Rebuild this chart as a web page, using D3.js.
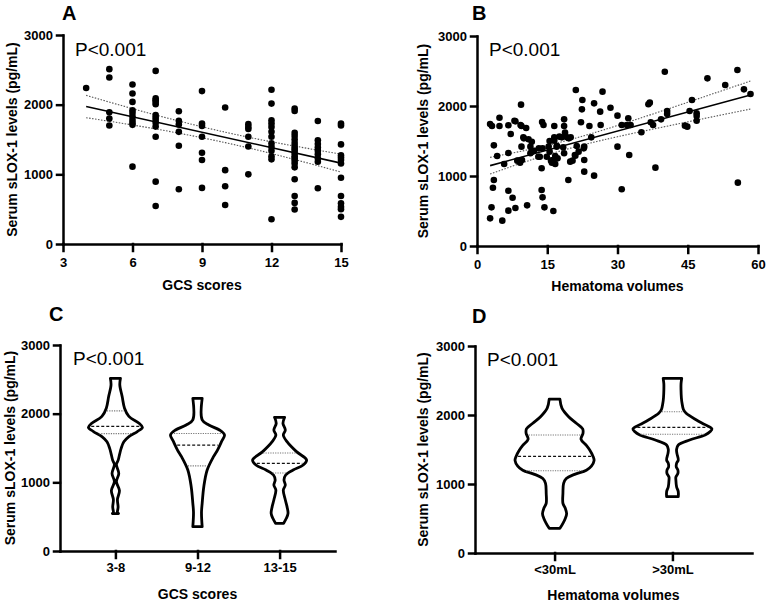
<!DOCTYPE html>
<html>
<head>
<meta charset="utf-8">
<script src="https://cdn.jsdelivr.net/npm/d3@7"></script>
<style>
  body { margin: 0; background: #fff; }
  svg { display: block; font-family: "Liberation Sans", Arial, Helvetica, sans-serif; }
  .axis path, .axis line { stroke: #000; stroke-width: 2.5px; stroke-linecap: square; }
  .axis text { font-size: 13px; font-weight: bold; fill: #000; font-family: "Liberation Sans", Arial, sans-serif; }
</style>
</head>
<body>
<svg id="chart" width="767" height="605"></svg>
<script>

// ---- data ----
const yTicks = [0, 1000, 2000, 3000];

// A: GCS score vs serum sLOX-1
const gcsTicks = [3, 6, 9, 12, 15];
const scatterA = [
  [4, 2240],
  [5, 2510], [5, 2390], [5, 1890], [5, 1800], [5, 1700],
  [6, 2290], [6, 2160], [6, 2040], [6, 1920], [6, 1880], [6, 1830], [6, 1780], [6, 1740], [6, 1710], [6, 1110],
  [7, 2485], [7, 2090], [7, 2065], [7, 2040], [7, 2005], [7, 1850], [7, 1815], [7, 1780], [7, 1740], [7, 1685], [7, 1540], [7, 895], [7, 545],
  [8, 1905], [8, 1770], [8, 1715], [8, 1610], [8, 1410], [8, 785],
  [9, 2195], [9, 1730], [9, 1695], [9, 1540], [9, 1310], [9, 1205], [9, 805],
  [10, 1960], [10, 1060], [10, 830], [10, 560],
  [11, 1720], [11, 1680], [11, 1650], [11, 1540], [11, 1400], [11, 1000],
  [12, 2215], [12, 2015], [12, 1775], [12, 1730], [12, 1680], [12, 1610], [12, 1540], [12, 1445], [12, 1395], [12, 1340], [12, 1260], [12, 1215], [12, 355],
  [13, 1945], [13, 1910], [13, 1595], [13, 1550], [13, 1500], [13, 1450], [13, 1405], [13, 1370], [13, 1340], [13, 1300], [13, 1260], [13, 1230], [13, 1195], [13, 1155], [13, 1100], [13, 930], [13, 690], [13, 590], [13, 495],
  [14, 1765], [14, 1490], [14, 1435], [14, 1385], [14, 1340], [14, 1290], [14, 1230], [14, 1180], [14, 800],
  [15, 1730], [15, 1700], [15, 1430], [15, 1275], [15, 1240], [15, 1205], [15, 1155], [15, 950], [15, 690], [15, 585], [15, 535], [15, 500], [15, 390]
];
const fitA = [[4, 1973], [15, 1161]];
const ciUpperA = [[4, 2133], [7, 1852], [10, 1605], [12.5, 1436], [15, 1289]];
const ciLowerA = [[4, 1813], [7, 1652], [10, 1455], [12.5, 1256], [15, 1033]];

// B: hematoma volume vs serum sLOX-1
const volumeTicks = [0, 15, 30, 45, 60];
const scatterB = [
  [2.8, 395], [3.1, 552], [2.8, 1743], [3.2, 1714], [3.6, 1438], [3.6, 943], [3.4, 833], [4.3, 1286],
  [4.8, 1714], [4.8, 1833], [5.4, 362], [5.8, 1171], [6.7, 1724], [6.7, 1329], [6.7, 790], [6.7, 505],
  [7.2, 1600], [7.6, 690], [8.2, 1781], [8.2, 543], [8.6, 1219], [9.2, 1190], [9.6, 1229], [9.4, 2019],
  [9.5, 1714], [9.5, 1419], [9.9, 1552], [10.5, 1686], [10.7, 581], [11.0, 1524], [11.4, 1419], [11.7, 1490],
  [11.7, 1348], [11.4, 1324], [13.1, 1276], [13.8, 1110], [13.8, 800], [14.0, 695], [13.9, 1771], [14.2, 1729],
  [14.0, 1395], [14.4, 552], [14.9, 1276], [15.3, 1419], [15.5, 1348], [15.8, 1219], [16.0, 1190], [16.3, 500],
  [16.5, 1714], [16.5, 1505], [16.5, 1552], [16.7, 1286], [16.7, 1171], [17.0, 1419], [17.6, 1562], [18.1, 1552],
  [18.6, 1809], [18.6, 1714], [18.6, 1324], [18.8, 1619], [19.2, 1552], [19.5, 943], [19.9, 1205], [20.0, 1552],
  [20.4, 1219], [20.9, 1300], [21.1, 2229], [21.3, 1429], [21.7, 1348], [22.2, 1767], [22.4, 1952], [22.5, 2086],
  [22.9, 1419], [22.9, 1229], [22.9, 1062], [24.0, 1714], [24.4, 1552], [25.0, 2038], [25.0, 1005], [26.3, 1919],
  [26.4, 1729], [26.8, 2205], [28.5, 1976], [30.0, 1862], [30.0, 1419], [30.9, 1729], [30.9, 810], [32.0, 1729],
  [32.3, 1824], [32.5, 1300], [32.8, 1729], [35.1, 1624], [36.6, 2024], [36.9, 2048], [37.1, 1767], [37.6, 1729],
  [38.1, 1119], [39.3, 1809], [40.1, 2490], [40.6, 1886], [40.6, 1929], [44.4, 1719], [44.9, 1705], [45.4, 1929],
  [45.9, 2086], [46.9, 1857], [46.9, 1790], [46.9, 1895], [49.2, 2395], [53.0, 2300], [55.7, 905], [55.6, 2514],
  [57.0, 2238], [58.4, 2171],
  [8.0, 1790], [9.3, 1729], [10.0, 1538], [13.4, 1276], [13.2, 1395], [15.5, 1500], [16.2, 1229], [17.1, 1429],
  [17.2, 1252], [18.4, 1410], [19.6, 1538], [21.0, 1290], [22.8, 1395], [12.2, 1360]
];
const fitB = [[2.8, 1148], [58.4, 2157]];
const ciUpperB = [[2.8, 1266], [12, 1390], [20, 1522], [30, 1721], [45, 2053], [58.4, 2357]];
const ciLowerB = [[2.8, 1030], [12, 1240], [20, 1398], [30, 1561], [45, 1773], [58.4, 1957]];

// C: violins by GCS group  (value, relative half width)
const gcsGroups = ["3-8", "9-12", "13-15"];
const violinGcs38 = [[2515, 15], [2420, 13], [2250, 20], [2080, 27], [1960, 40], [1860, 70], [1800, 80], [1740, 65],
  [1665, 40], [1590, 25], [1495, 17], [1400, 12], [1320, 8], [1260, 3], [1130, 10], [1010, 3], [880, 12], [750, 6],
  [640, 8], [560, 6], [545, 9]];
const violinGcs912 = [[2223, 14], [1910, 14], [1835, 34], [1762, 66], [1690, 81], [1592, 72], [1470, 60], [1374, 48],
  [1180, 29], [940, 19], [694, 14], [560, 12], [354, 14]];
const violinGcs1315 = [[1947, 15], [1859, 10], [1762, 17], [1689, 11], [1592, 22], [1447, 50], [1325, 80], [1252, 70],
  [1180, 40], [1107, 18], [1034, 13], [961, 17], [888, 11], [743, 17], [646, 22], [549, 25], [476, 20], [403, 12]];
const quartilesGcs = [[1710, 1815, 2040], [1240, 1541, 1711], [1135, 1276, 1428]];

// D: violins by hematoma volume
const volumeGroups = ["<30mL", ">30mL"];
const violinSmall = [[2230, 16], [2100, 22], [1975, 42], [1880, 65], [1800, 84], [1735, 85], [1650, 79], [1560, 95],
  [1493, 105], [1400, 115], [1340, 118], [1260, 110], [1200, 95], [1140, 60], [1080, 35], [1010, 27], [865, 25],
  [720, 25], [648, 32], [570, 36], [500, 32], [430, 25], [357, 16]];
const violinLarge = [[2531, 27], [2450, 25], [2362, 25], [2250, 26], [2169, 28], [2080, 32], [2024, 40], [1928, 70],
  [1860, 95], [1800, 115], [1760, 110], [1710, 95], [1638, 50], [1565, 17], [1500, 12], [1444, 13], [1348, 17],
  [1300, 12], [1251, 11], [1200, 16], [1155, 16], [1100, 10], [1058, 10], [961, 12], [889, 17], [816, 17]];
const quartilesVolume = [[1193, 1400, 1710], [1720, 1821, 2048]];

const yTitle = "Serum sLOX-1 levels (pg/mL)";

const svg = d3.select("#chart");

// shared bits: axes, titles, letter, P value
function drawFrame(g, p, x, y) {
  g.append("g").attr("class", "axis")
    .attr("transform", "translate(0," + p.yRange[0] + ")")
    .call(p.xAxis(x).tickSize(7).tickSizeOuter(0).tickPadding(p.xPad));

  g.append("g").attr("class", "axis")
    .attr("transform", "translate(" + p.xRange[0] + ",0)")
    .call(d3.axisLeft(y).tickValues(yTicks).tickFormat(d3.format("d")).tickSize(6).tickSizeOuter(0).tickPadding(4));

  g.append("text")
    .attr("transform", "translate(" + p.yTitleX + "," + ((p.yRange[0] + p.yRange[1]) / 2) + ") rotate(-90)")
    .style("text-anchor", "middle").style("font-weight", "bold").style("font-size", "14px")
    .text(yTitle);

  g.append("text")
    .attr("x", (p.xRange[0] + p.xRange[1]) / 2).attr("y", p.xTitleY)
    .style("text-anchor", "middle").style("font-weight", "bold").style("font-size", "14px")
    .text(p.xTitle);

  g.append("text")
    .attr("x", p.letterX).attr("y", p.letterY)
    .style("font-weight", "bold").style("font-size", "20px")
    .text(p.letter);

  g.append("text")
    .attr("x", p.pX).attr("y", p.pY)
    .style("font-size", "19px")
    .text("P<0.001");
}

function drawScatter(p) {
  const g = svg.append("g");
  const x = d3.scaleLinear().domain(p.xDomain).range(p.xRange);
  const y = d3.scaleLinear().domain([0, 3000]).range(p.yRange);

  p.xAxis = s => d3.axisBottom(s).tickValues(p.ticks).tickFormat(d3.format("d"));
  drawFrame(g, p, x, y);

  const line = d3.line().x(d => x(d[0])).y(d => y(d[1]));
  const curve = d3.line().x(d => x(d[0])).y(d => y(d[1])).curve(d3.curveNatural);

  [p.ciUpper, p.ciLower].forEach(ci => {
    g.append("path").attr("d", curve(ci))
      .attr("fill", "none").attr("stroke", "#555").attr("stroke-width", 1.1)
      .attr("stroke-dasharray", "1.5,1.5");
  });
  g.append("path").attr("d", line(p.fit))
    .attr("fill", "none").attr("stroke", "#000").attr("stroke-width", 1.6);

  g.selectAll("circle.pt").data(p.points).enter()
    .append("circle").attr("class", "pt")
    .attr("cx", d => x(d[0])).attr("cy", d => y(d[1]))
    .attr("r", 3.3).attr("fill", "#000");
}

// half width of a profile at value v (linear between read points)
function widthAt(profile, v) {
  for (let i = 0; i < profile.length - 1; i++) {
    const a = profile[i], b = profile[i + 1];
    if (v <= a[0] && v >= b[0]) {
      const t = (a[0] - v) / (a[0] - b[0]);
      return a[1] + t * (b[1] - a[1]);
    }
  }
  return 0;
}

function drawViolins(p) {
  const g = svg.append("g");
  const x = d3.scalePoint().domain(p.groups).range(p.xRange).padding(0.675);
  const y = d3.scaleLinear().domain([0, 3000]).range(p.yRange);

  p.xAxis = s => d3.axisBottom(s);
  drawFrame(g, p, x, y);

  p.violins.forEach((prof, i) => {
    const cx = x(p.groups[i]);
    const w = d3.scaleLinear().domain([0, d3.max(prof, d => d[1])]).range([0, p.halfWidth]);

    const area = d3.area()
      .y(d => y(d[0]))
      .x0(d => cx - w(d[1]))
      .x1(d => cx + w(d[1]))
      .curve(d3.curveCatmullRom);

    g.append("path").attr("d", area(prof))
      .attr("fill", "#fff").attr("stroke", "#000").attr("stroke-width", 2.8)
      .attr("stroke-linejoin", "round");

    const q = p.quartiles[i];
    q.forEach((v, k) => {
      const hw = Math.max(w(widthAt(prof, v)) - 2, 1);
      g.append("line")
        .attr("x1", cx - hw).attr("x2", cx + hw)
        .attr("y1", y(v)).attr("y2", y(v))
        .attr("stroke", k === 1 ? "#111" : "#777")
        .attr("stroke-width", k === 1 ? 1.3 : 1.1)
        .attr("stroke-dasharray", k === 1 ? "3,2" : "1.2,1.2");
    });
  });
}

drawScatter({
  points: scatterA, fit: fitA, ciUpper: ciUpperA, ciLower: ciLowerA,
  xDomain: [3, 15], ticks: gcsTicks,
  xRange: [63, 341], yRange: [244, 35], xPad: 7,
  xTitle: "GCS scores", xTitleY: 290, yTitleX: 17,
  letter: "A", letterX: 62, letterY: 20, pX: 75, pY: 56
});

drawScatter({
  points: scatterB, fit: fitB, ciUpper: ciUpperB, ciLower: ciLowerB,
  xDomain: [0, 60], ticks: volumeTicks,
  xRange: [477, 758], yRange: [246, 36], xPad: 7,
  xTitle: "Hematoma volumes", xTitleY: 291, yTitleX: 428,
  letter: "B", letterX: 472, letterY: 20, pX: 489, pY: 56
});

drawViolins({
  groups: gcsGroups, violins: [violinGcs38, violinGcs912, violinGcs1315], quartiles: quartilesGcs,
  halfWidth: 27,
  xRange: [60, 335], yRange: [551, 345], xPad: 5,
  xTitle: "GCS scores", xTitleY: 599, yTitleX: 15,
  letter: "C", letterX: 49, letterY: 321, pX: 73, pY: 365
});

drawViolins({
  groups: volumeGroups, violins: [violinSmall, violinLarge], quartiles: quartilesVolume,
  halfWidth: 39.5,
  xRange: [475, 752], yRange: [553, 346], xPad: 5,
  xTitle: "Hematoma volumes", xTitleY: 600, yTitleX: 428,
  letter: "D", letterX: 472, letterY: 323, pX: 487, pY: 366
});

</script>
</body>
</html>
